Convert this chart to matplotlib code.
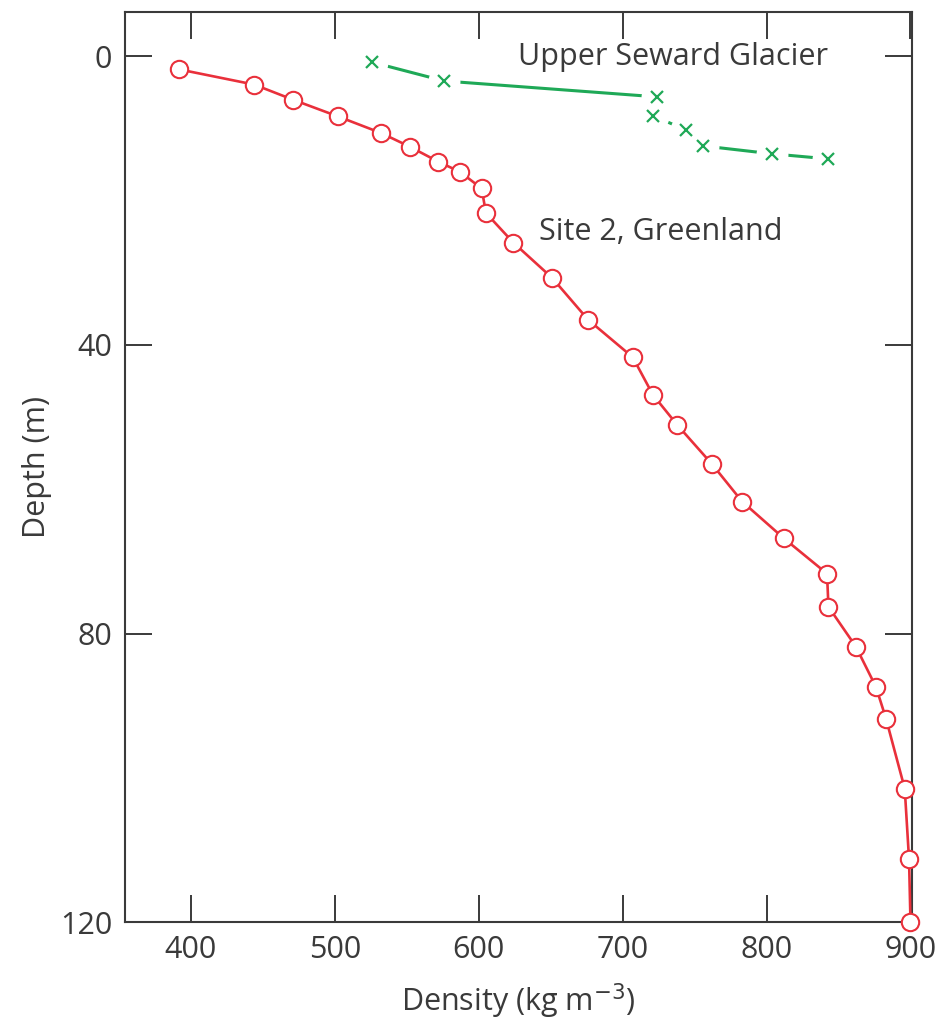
import numpy as np
import matplotlib
matplotlib.use('Agg')
import matplotlib.pyplot as plt

# Site 2, Greenland
greenland_density = [392, 444, 471, 502, 532, 552, 572, 587, 602, 605, 624, 651, 676, 707,
                     721, 738, 762, 783, 812, 842, 843, 862, 876, 883, 896, 899, 900]
greenland_depth = [1.8, 3.9, 6.0, 8.3, 10.6, 12.5, 14.6, 16.0, 18.3, 21.7, 25.8, 30.7, 36.5, 41.7,
                   46.9, 51.1, 56.5, 61.7, 66.8, 71.7, 76.3, 81.8, 87.4, 91.8, 101.5, 111.3, 120.0]

# Upper Seward Glacier
seward_density = [526, 576, 724, 721, 744, 756, 804, 843]
seward_depth = [0.8, 3.4, 5.6, 8.2, 10.2, 12.4, 13.5, 14.2]

x_ticks = [400, 500, 600, 700, 800, 900]
y_ticks = [0, 40, 80, 120]

red = '#e9303b'
green = '#1fa957'
ink = '#3a3a3a'

plt.rcParams['font.family'] = ['Open Sans', 'DejaVu Sans']

fig = plt.figure(figsize=(9.45, 10.22), dpi=100)
ax = fig.add_axes([0.132, 0.0978, 0.833, 0.890])

ax.plot(greenland_density, greenland_depth, color=red, lw=1.9, marker='o', ms=12.5,
        mfc='white', mec=red, mew=1.5, zorder=3, clip_on=False)

# green line broken around each cross
ax.plot(seward_density, seward_depth, color=green, lw=2.2, zorder=2)
ax.plot(seward_density, seward_depth, ls='none', marker='o', ms=23, mfc='white',
        mec='none', zorder=2.5)
ax.plot(seward_density, seward_depth, ls='none', marker='x', ms=8.5, mec=green,
        mew=1.6, zorder=3)

ax.text(735, 0.1, 'Upper Seward Glacier', fontsize=22, color=ink, ha='center', va='center',
        zorder=4)
ax.text(642, 24.3, 'Site 2, Greenland', fontsize=22, color=ink, ha='left', va='center',
        zorder=4)

ax.set_xlim(354, 901)
ax.set_ylim(120, -6.1)
ax.set_xticks(x_ticks)
ax.set_yticks(y_ticks)
ax.tick_params(direction='in', length=19.5, width=1.4, color=ink, labelcolor=ink,
               labelsize=22, top=True, right=True, pad=9)
for s in ax.spines.values():
    s.set_color(ink)
    s.set_linewidth(1.5)

ax.set_xlabel('Density (kg m$^{-3}$)', fontsize=22, color=ink, labelpad=12)
ax.set_ylabel('Depth (m)', fontsize=22, color=ink, labelpad=6)

fig.savefig('out.png', dpi=100)
